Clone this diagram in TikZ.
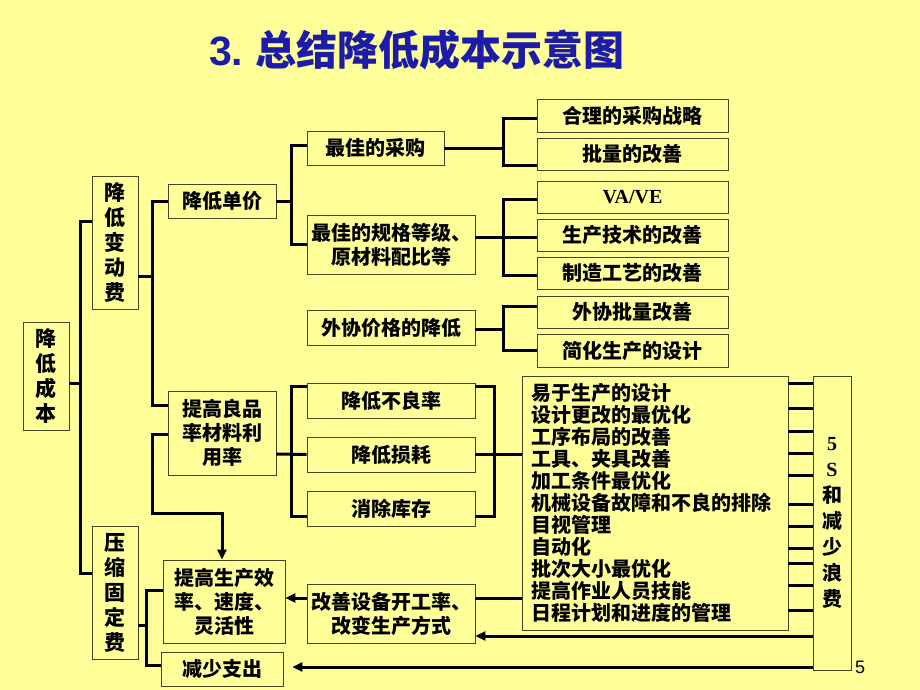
\documentclass[tikz,border=0pt]{standalone}
\usepackage{fontspec}
\setmainfont{Noto Sans CJK SC}
\newfontfamily\latinserif{Liberation Serif}
\newfontfamily\latinsans{Liberation Sans}
\usetikzlibrary{arrows.meta}
\definecolor{bg}{RGB}{255,255,153}
\definecolor{titleblue}{RGB}{28,28,168}
\definecolor{boxline}{RGB}{70,70,30}
\begin{document}
\begin{tikzpicture}[x=1pt,y=-1pt,
  bx/.style={draw=boxline,line width=0.9pt,inner sep=0pt,align=center,
    font=\fontsize{20}{24}\selectfont\bfseries},
  vt/.style={bx,font=\fontsize{21}{25}\selectfont\bfseries},
  conn/.style={line width=3pt,draw=black},
  arr/.style={-{Triangle[length=10pt,width=9pt]}}]
\fill[bg] (0,0) rectangle (920,690);
\useasboundingbox (0,0) rectangle (920,690);

% title
\node[font=\fontsize{41}{41}\selectfont\bfseries,text=titleblue] (title) at (417,50)
  {{\latinsans 3.} 总结降低成本示意图};

% left column
\node[vt,minimum width=46pt,minimum height=108pt] (cost) at (46,376) {降\\低\\成\\本};
\node[vt,minimum width=46pt,minimum height=133pt] (var) at (115,242.5) {降\\低\\变\\动\\费};
\node[vt,minimum width=46pt,minimum height=133pt] (fix) at (115,592.5) {压\\缩\\固\\定\\费};

% second column
\node[bx,minimum width=108pt,minimum height=34pt] (price) at (222,201) {降低单价};
\node[bx,minimum width=108pt,minimum height=84pt] (yield) at (222,433) {提高良品\\率材料利\\用率};
\node[bx,minimum width=122pt,minimum height=83pt] (eff) at (224,601.5) {提高生产效\\率、速度、\\灵活性};
\node[bx,minimum width=122pt,minimum height=34pt] (spend) at (222,669) {减少支出};

% third column
\node[bx,minimum width=137pt,minimum height=34pt] (buy) at (375.5,148) {最佳的采购};
\node[bx,minimum width=168pt,minimum height=59pt] (spec) at (391,244.5) {最佳的规格等级、\\原材料配比等};
\node[bx,minimum width=168pt,minimum height=35pt] (out) at (391,327.5) {外协价格的降低};
\node[bx,minimum width=168pt,minimum height=35pt] (m1) at (391,400.5) {降低不良率};
\node[bx,minimum width=168pt,minimum height=35pt] (m2) at (391,454.5) {降低损耗};
\node[bx,minimum width=168pt,minimum height=35pt] (m3) at (391,508.5) {消除库存};
\node[bx,minimum width=168pt,minimum height=59pt] (chg) at (391,613.5) {改善设备开工率、\\改变生产方式};

% right column
\node[bx,minimum width=191pt,minimum height=33pt] (r1) at (632.5,115.5) {合理的采购战略};
\node[bx,minimum width=191pt,minimum height=32pt] (r2) at (632.5,154) {批量的改善};
\node[bx,minimum width=191pt,minimum height=32pt] (r3) at (632.5,197) {{\latinserif VA/VE}};
\node[bx,minimum width=191pt,minimum height=32pt] (r4) at (632.5,235) {生产技术的改善};
\node[bx,minimum width=191pt,minimum height=32pt] (r5) at (632.5,273) {制造工艺的改善};
\node[bx,minimum width=191pt,minimum height=32pt] (r6) at (632.5,312) {外协批量改善};
\node[bx,minimum width=191pt,minimum height=33pt] (r7) at (632.5,350.5) {简化生产的设计};

\node[bx,align=left,text width=248pt,inner xsep=9pt,minimum width=266pt,minimum height=254pt,
  font=\fontsize{20}{22}\selectfont\bfseries] (list) at (655,503)
  {易于生产的设计\\设计更改的最优化\\工序布局的改善\\工具、夹具改善\\加工条件最优化\\机械设备故障和不良的排除\\目视管理\\自动化\\批次大小最优化\\提高作业人员技能\\日程计划和进度的管理};
\node[bx,minimum width=38pt,minimum height=294pt,font=\fontsize{20}{26}\selectfont\bfseries] (five) at (832,523)
  {{\latinserif 5}\\{\latinserif S}\\和\\减\\少\\浪\\费};

% page number
\node[font=\fontsize{18}{18}\selectfont\latinsans] (page) at (860,667) {5};

% connectors: left brackets
\draw[conn] ([yshift=-7pt]cost.east) -- ++(12,0);
\draw[conn] ([yshift=21.5pt]var.west) -- ++(-11,0) -- ([xshift=-11pt,yshift=19.5pt]fix.west) -- ([yshift=19.5pt]fix.west);

\draw[conn] ([yshift=-33.5pt]var.east) -- ++(15,0);
\draw[conn] (price.west) -- ++(-15,0) -- ([xshift=-15pt,yshift=28pt]yield.west) -- ([yshift=28pt]yield.west);

\draw[conn,arr] ([yshift=-1pt]yield.west) -- ++(-15,0) -- ++(0,79) -| ([xshift=-2pt]eff.north);

% price group
\draw[conn] (price.east) -- ++(16,0);
\draw[conn] ([yshift=3pt]buy.west) -- ++(-15,0) |- (spec.west);

% buy group
\draw[conn] (buy.east) -- ++(60,0);
\draw[conn] ([yshift=-3.5pt]r1.west) -- ++(-33,0) |- ([yshift=-11pt]r2.west);

% spec group
\draw[conn] ([yshift=7.5pt]spec.east) -- ([yshift=-2pt]r4.west);
\draw[conn] ([yshift=-2pt]r3.west) -- ++(-33,0) |- ([yshift=-2pt]r5.west);

% out group
\draw[conn] ([yshift=-1.5pt]out.east) -- ++(29,0);
\draw[conn] ([yshift=6pt]r6.west) -- ++(-33,0) |- (r7.west);

% yield group
\draw[conn] ([yshift=-21pt]yield.east) -- (m2.west);
\draw[conn] ([yshift=14.5pt]m1.west) -- ++(-15,0) |- ([yshift=-7.5pt]m3.west);
\draw[conn] ([yshift=14.5pt]m1.east) -- ++(19,0) |- ([yshift=-7.5pt]m3.east);
\draw[conn] (m2.east) -- (m2.east -| list.west);

% fixed cost group
\draw[conn] ([yshift=-32.5pt]fix.east) -- ++(9,0);
\draw[conn] ([yshift=11.5pt]eff.west) -- ++(-16,0) |- ([yshift=4pt]spend.west);

% bottom flows
\draw[conn] ([yshift=15.5pt]chg.east) -- ++(47,0);
\draw[conn,arr] ([yshift=15.5pt]chg.west) -- ([yshift=3.5pt]eff.east);
\draw[conn,arr] ([yshift=-113pt]five.west) -- ([yshift=-22.5pt]chg.east);
\draw[conn,arr,shorten >=9pt] ([yshift=-144pt]five.west) -- ([yshift=2pt]spend.east);

% ticks between list and 5S
\foreach \yy in {383,408,431,453,475,504,526,548,563,585,610}
  \draw[conn] (list.east |- {(0,\yy)}) -- (five.west |- {(0,\yy)});
\end{tikzpicture}
\end{document}
